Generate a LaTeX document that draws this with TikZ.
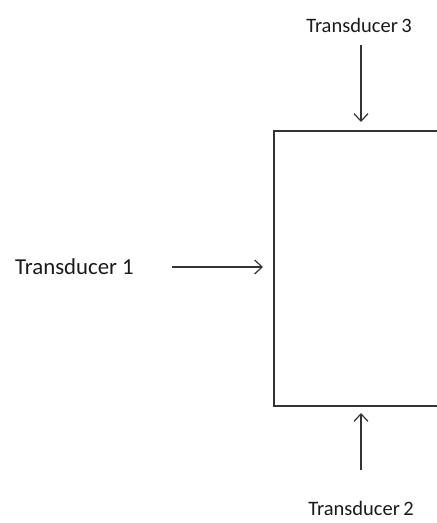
\documentclass[tikz,border=0pt]{standalone}
\usepackage{fontspec}
\setmainfont{Carlito}
\usetikzlibrary{arrows.meta}
\definecolor{linegray}{HTML}{333333}
\definecolor{textgray}{HTML}{1A1A1A}
\begin{document}
\begin{tikzpicture}[x=1pt,y=-1pt,
  lbl/.style={text=textgray,inner sep=0pt},
  lbl big/.style={lbl,font=\fontsize{22.8}{24}\selectfont},
  lbl small/.style={lbl,font=\fontsize{20.5}{22}\selectfont},
  conn/.style={draw=linegray,line width=1.2pt,-{Straight Barb[length=7.5pt,width=14pt,line width=1.2pt]}},
  block/.style={draw=linegray,line width=1.5pt,minimum width=180pt,minimum height=275pt,inner sep=0pt,anchor=north west}]
\useasboundingbox (0,0) rectangle (437,523);
\clip (0,0) rectangle (437,523);
\node[block] (box) at (273,130) {};
\node[lbl big,anchor=west] (t1) at (15,267) {Transducer 1};
\node[lbl small] (t3) at (359,25) {Transducer\,3};
\node[lbl small] (t2) at (361,508) {Transducer\,2};
\coordinate (in1) at (box.west |- t1);
\coordinate (in3) at (361,130);
\coordinate (in2) at (361,405);
\coordinate (s1) at (172,267);
\coordinate (s3) at (361,45);
\coordinate (s2) at (361,470);
\draw[conn,shorten >=10pt] (s1) -- (in1);
\draw[conn,shorten >=8pt] (s3) -- (in3);
\draw[conn,shorten >=8pt] (s2) -- (in2);
\end{tikzpicture}
\end{document}
